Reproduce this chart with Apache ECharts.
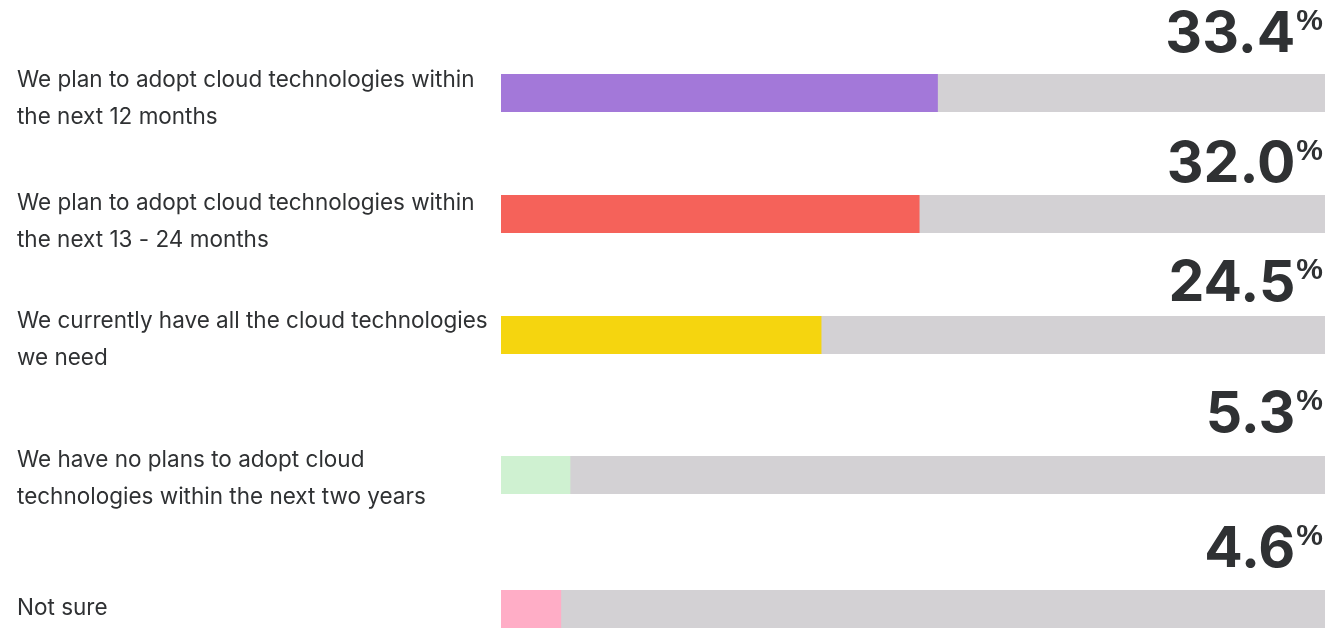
<!DOCTYPE html>
<html><head><meta charset="utf-8">
<script src="https://cdn.jsdelivr.net/npm/echarts@6/dist/echarts.min.js"></script>
<style>html,body{margin:0;padding:0;background:#fff}#chart{width:1331px;height:628px}</style>
</head><body><div id="chart"></div>
<script>
// Survey answers and their shares (%)
const categories = [
  'We plan to adopt cloud technologies within\nthe next 12 months',
  'We plan to adopt cloud technologies within\nthe next 13 - 24 months',
  'We currently have all the cloud technologies\nwe need',
  'We have no plans to adopt cloud\ntechnologies within the next two years',
  'Not sure'
];
const shares = [33.4, 32.0, 24.5, 5.3, 4.6];
const barColors = ['#a378d9', '#f5625a', '#f5d50f', '#cff1d1', '#ffadc6'];
const scaleMax = 63;

// Row layout: top of each track, gap from value label to track, answer text shift
const rowTops = [74, 195, 316, 456, 590];
const valueGaps = [21, 12, 14, 23, 22];
const labelShift = [6, 8, 4.5, 4, -1];
const barHeight = 38;

const textColor = '#2f3133';

// answer text as rich lines; an invisible spacer line moves the block up or down
function answerText(value, shift) {
  const body = value.split('\n').map(l => '{t|' + l + '}').join('\n');
  if (shift > 0) return '{s| }\n' + body;
  if (shift < 0) return body + '\n{s| }';
  return body;
}

const grids = [], xAxes = [], yAxes = [], series = [];
categories.forEach((cat, i) => {
  grids.push({ left: 501, right: 6, top: rowTops[i], height: barHeight });
  xAxes.push({ gridIndex: i, type: 'value', min: 0, max: scaleMax, show: false });
  const shift = labelShift[i];
  yAxes.push({
    gridIndex: i, type: 'category', data: [cat],
    axisLine: { show: false }, axisTick: { show: false }, splitLine: { show: false },
    axisLabel: {
      align: 'left', margin: 484,
      formatter: v => answerText(v, shift),
      rich: {
        t: { fontSize: 22.5, lineHeight: 37, color: textColor, fontFamily: 'Inter' },
        s: { fontSize: 1, lineHeight: Math.max(1, Math.abs(shift) * 2), color: 'rgba(0,0,0,0)' }
      }
    }
  });
  // grey track carrying the value label
  series.push({
    type: 'bar', xAxisIndex: i, yAxisIndex: i, data: [scaleMax],
    barWidth: barHeight, silent: true, z: 1,
    itemStyle: { color: '#d3d1d4' },
    label: {
      show: true, position: ['100%', 0], align: 'right', verticalAlign: 'bottom',
      offset: [-2, -(valueGaps[i] - 10.8)],
      formatter: () => '{v|' + shares[i].toFixed(1) + '}{p|%}',
      rich: {
        v: { fontSize: 57, lineHeight: 57, fontWeight: 'bold', color: textColor, fontFamily: 'Inter' },
        p: { fontSize: 30, lineHeight: 30, fontWeight: 'bold', color: textColor, fontFamily: 'Liberation Sans', verticalAlign: 'top', padding: [0, 0, 0, 1] }
      }
    }
  });
  series.push({
    type: 'bar', xAxisIndex: i, yAxisIndex: i, data: [shares[i]],
    barWidth: barHeight, barGap: '-100%', silent: true, z: 2,
    itemStyle: { color: barColors[i] }
  });
});

const chart = echarts.init(document.getElementById('chart'), null, { renderer: 'canvas' });
chart.setOption({
  animation: false,
  backgroundColor: '#ffffff',
  grid: grids, xAxis: xAxes, yAxis: yAxes, series: series
});
</script>
</body></html>
